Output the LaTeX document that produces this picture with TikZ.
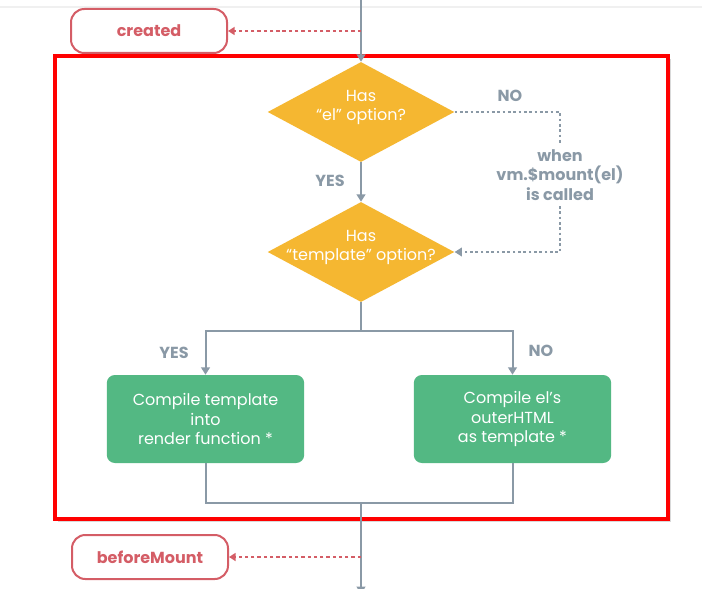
\documentclass[tikz,border=0pt]{standalone}
\usepackage{fontspec}
\setmainfont{Poppins}
\usetikzlibrary{arrows.meta,shapes.geometric,shadows}

\definecolor{hookred}{HTML}{D45D66}
\definecolor{flowgray}{HTML}{8A99A6}
\definecolor{decisionorange}{HTML}{F5B731}
\definecolor{stepgreen}{HTML}{53B883}

\tikzset{
  hook/.style={draw=hookred,line width=1.5pt,rounded corners=10pt,minimum width=117pt,minimum height=33pt,
    text=hookred,font=\fontsize{12}{14}\selectfont\bfseries},
  decision/.style={diamond,fill=decisionorange,minimum width=140pt,minimum height=75pt,inner sep=0pt},
  decisiontext/.style={text=white,align=center,yshift=3.5pt,font=\fontsize{12}{14.6}\selectfont},
  stepbox/.style={fill=stepgreen,rounded corners=6pt,minimum width=148pt,minimum height=66pt,
    text=white,align=center,font=\fontsize{12}{14.6}\selectfont},
  flow/.style={draw=flowgray,line width=1.5pt},
  flowarrow/.style={flow,-{Triangle[width=6.5pt,length=5.5pt]}},
  hookarrow/.style={draw=hookred,line width=1.3pt,dash pattern=on 2.5pt off 2.2pt,-{Triangle[width=6pt,length=5pt]}},
  callarrow/.style={draw=flowgray,line width=2pt,dash pattern=on 2pt off 2pt},
  branch/.style={text=flowgray,font=\fontsize{12}{14.6}\selectfont\bfseries},
  frame/.style={draw=red,line width=2.3pt,fill=white,drop shadow={shadow xshift=2pt,shadow yshift=-2pt,opacity=0.3}}
}

\begin{document}
\begin{tikzpicture}[x=0.75pt,y=-0.75pt]
\useasboundingbox (0,0) rectangle (702,588);
\draw[gray!12,line width=0.8pt] (0,7) -- (702,7);

% lifecycle frame
\draw[frame] (55,56) rectangle (668,519);

% hooks
\node[hook] (created) at (149,31) {created};
\node[hook] (before-mount) at (150,557) {beforeMount};
\coordinate (top) at (361,0);
\coordinate (created-tap) at (361,31);
\coordinate (mount-tap) at (361,557);
\coordinate (bottom) at (361,594);

% decisions
\node[decision] (has-el) at (361,112) {};
\node[decisiontext] at (has-el) {Has\\“el” option?};
\node[decision] (has-template) at (361,252) {};
\node[decisiontext] at (has-template) {Has\\“template” option?};

% compile steps
\node[stepbox] (compile-template) at (205.5,419) {Compile template\\into\\render function *};
\node[stepbox] (compile-el) at (512.5,419) {Compile el’s\\outerHTML\\as template *};

\node[branch,align=center,inner sep=4pt] (mount-note) at (560,175) {when\\vm.\$mount(el)\\is called};
\node[branch] (yes-el) at (330,181) {YES};
\node[branch] (no-el) at (510,96) {NO};
\node[branch] (yes-template) at (174,353) {YES};
\node[branch] (no-template) at (541,351) {NO};

\coordinate (split) at (361,331);
\coordinate (merge) at (361,503);

% connectors
\draw[flowarrow] (top) -- (has-el);
\draw[hookarrow] (created-tap) -- (created);
\draw[flowarrow] (has-el) -- (has-template);
\draw[callarrow] (has-el.east) -| (mount-note.north);
\draw[callarrow,-{Triangle[width=6.5pt,length=5.5pt]}] (mount-note.south) |- (has-template.east);
\draw[flow] (has-template) -- (split);
\draw[flowarrow] (split) -| (compile-template);
\draw[flowarrow] (split) -| (compile-el);
\draw[flow] (compile-template) |- (merge);
\draw[flow] (compile-el) |- (merge);
\draw[flowarrow] (merge) -- (bottom);
\draw[hookarrow] (mount-tap) -- (before-mount);
\end{tikzpicture}
\end{document}
